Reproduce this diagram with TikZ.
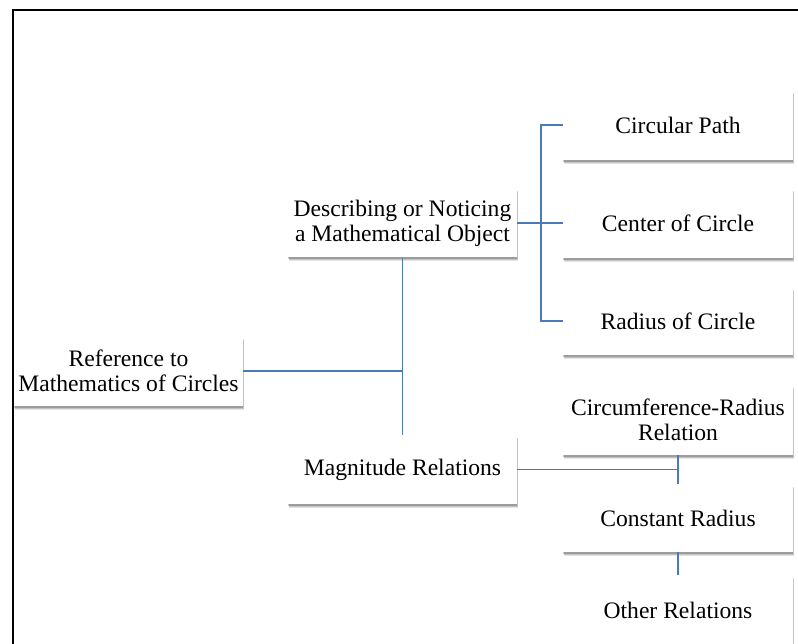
\documentclass[tikz,border=0pt]{standalone}
\usepackage{fontspec}
\setmainfont{Liberation Serif}
\usetikzlibrary{shadows}
\definecolor{linkblue}{RGB}{74,122,185}
\begin{document}
\begin{tikzpicture}[x=1pt,y=-1pt,
  box/.style={fill=white, draw=none, align=center, inner sep=0pt,
    minimum width=229pt, minimum height=69pt,
    font=\fontsize{23.6}{25}\selectfont,
    drop shadow={shadow xshift=1.2pt, shadow yshift=-4pt, fill=black, opacity=0.10},
    drop shadow={shadow xshift=0.8pt, shadow yshift=-3pt, fill=black, opacity=0.15},
    drop shadow={shadow xshift=0.4pt, shadow yshift=-2pt, fill=black, opacity=0.2}},
  link/.style={draw=linkblue, line width=1.8pt},
  frame/.style={draw=black, line width=2pt}]
\useasboundingbox (0,0) rectangle (798,644);
\clip (0,0) rectangle (798,644);
\draw[frame] (12.5,700) -- (12.5,10) -- (850,10);
\node[box] (ref) at (128.5,371) {Reference to\\Mathematics of Circles};
\node[box] (desc) at (402.5,223) {Describing or Noticing\\a Mathematical Object};
\node[box] (mag) at (402.5,469.5) {Magnitude Relations};
\node[box, minimum width=230pt, minimum height=70pt] (cp) at (678,125) {Circular Path};
\node[box, minimum width=230pt, minimum height=70pt] (cc) at (678,223) {Center of Circle};
\node[box, minimum width=230pt, minimum height=68pt] (rc) at (678,321) {Radius of Circle};
\node[box, minimum width=230pt, minimum height=70pt] (cr) at (678,420) {Circumference-Radius\\Relation};
\node[box, minimum width=230pt, minimum height=68pt] (con) at (678,518) {Constant Radius};
\node[box, minimum width=230pt, minimum height=70pt] (oth) at (678,610) {Other Relations};
\coordinate (busA) at (541,0);
\draw[link] (ref.east) -- (ref.east -| desc.south);
\draw[link] (desc.south) -- (mag.north);
\draw[link] (desc.east) -- (cc.west);
\draw[link] (cp.west) -- (cp.west -| busA) |- (rc.west);
\draw[link] (mag.east) -- (mag.east -| cr.south);
\draw[link] (cr.south) -- (con.north);
\draw[link] (con.south) -- (oth.north);
\end{tikzpicture}
\end{document}
